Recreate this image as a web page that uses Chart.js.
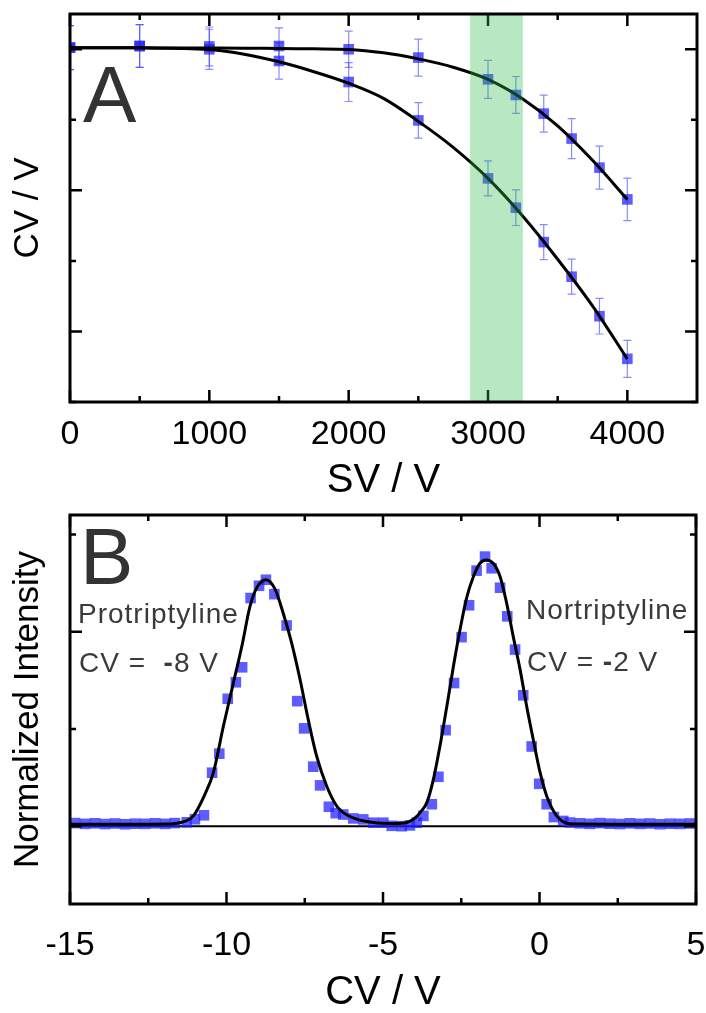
<!DOCTYPE html>
<html>
<head>
<meta charset="utf-8">
<script src="https://cdn.jsdelivr.net/npm/chart.js@4.4.1/dist/chart.umd.min.js"></script>
<style>
  html, body { margin: 0; padding: 0; background: #fff; }
  #page { position: relative; width: 706px; height: 1013px; overflow: hidden; }
  .panel { position: absolute; left: 0; width: 706px; }
  .note { position: absolute; font-family: 'Liberation Sans', Arial, sans-serif; line-height: 1; color: #3a3a3a; white-space: nowrap; }
  .letter { font-size: 80px; color: #333; }
  .drug { font-size: 28px; letter-spacing: 1px; }
</style>
</head>
<body>
<div id="page">
  <div class="panel" style="top:0;height:505px"><canvas id="chartA"></canvas></div>
  <div class="panel" style="top:505px;height:512px"><canvas id="chartB"></canvas></div>
  <div class="note letter" style="left:83px;top:55px">A</div>
  <div class="note letter" style="left:80px;top:517px">B</div>
  <div class="note drug" style="left:78px;top:600px">Protriptyline</div>
  <div class="note drug" style="left:79px;top:649px">CV =&nbsp; <b>-</b>8 V</div>
  <div class="note drug" style="left:526px;top:596px">Nortriptyline</div>
  <div class="note drug" style="left:527px;top:648px">CV = <b>-</b>2 V</div>
</div>
<script>
const FONT = "'Liberation Sans', Arial, sans-serif";

// Panel A - peak CV against separation voltage
const svValues = [0, 500, 1000, 1500, 2000, 2500, 3000, 3200, 3400, 3600, 3800, 4000];
const cvUpper  = [0.12, 0.23, 0.20, 0.23, 0.00, -0.59, -2.13, -3.24, -4.56, -6.33, -8.39, -10.64];
const errUpper = [1.56, 1.52, 1.38, 1.28, 1.28, 1.31, 1.35, 1.31, 1.31, 1.42, 1.52, 1.51];
const cvLower  = [0.12, 0.23, 0.00, -0.83, -2.32, -5.04, -9.15, -11.23, -13.67, -16.12, -18.92, -21.94];
const errLower = [1.56, 1.52, 1.42, 1.28, 1.38, 1.26, 1.24, 1.26, 1.24, 1.24, 1.26, 1.31];
// fitted curves
const fitSV    = [0, 500, 1000, 1250, 1500, 1750, 2000, 2250, 2500, 2750, 3000, 3250, 3500, 3750, 4000];
const fitUpper = [0.11, 0.10, 0.09, 0.08, 0.05, 0.03, -0.01, -0.25, -0.68, -1.27, -2.13, -3.52, -5.43, -7.87, -10.64];
const fitLower = [0.11, 0.10, -0.02, -0.35, -0.89, -1.59, -2.41, -3.48, -5.11, -6.95, -9.15, -11.83, -14.88, -18.19, -21.95];
const svTicks  = [0, 500, 1000, 1500, 2000, 2500, 3000, 3500, 4000];
const cvTicksA = [-25, -20, -15, -10, -5, 0];
const bandSV   = [2872, 3250];

// Panel B - CV scan
const scanCV = [-14.84, -14.52, -14.20, -13.88, -13.56, -13.24, -12.92, -12.60, -12.28, -11.96, -11.65, -11.27, -11.01, -10.72,
  -10.46, -10.23, -9.96, -9.70, -9.50, -9.23, -8.96, -8.74, -8.47, -8.08, -7.74, -7.52, -7.23, -7.01, -6.73, -6.51,
  -6.27, -5.95, -5.63, -5.31, -4.99, -4.72, -4.40, -4.14, -3.92, -3.71, -3.44,
  -3.23, -3.00, -2.73, -2.49, -2.25, -2.01, -1.74, -1.53, -1.26, -1.03, -0.78, -0.52, -0.25, -0.01, 0.23, 0.46, 0.76,
  0.97, 1.29, 1.61, 1.93, 2.25, 2.57, 2.89, 3.21, 3.53, 3.85, 4.17, 4.49, 4.81];
const intensity = [0.016, 0.012, 0.015, 0.011, 0.014, 0.010, 0.013, 0.012, 0.015, 0.012, 0.016, 0.020, 0.036, 0.056,
  0.275, 0.373, 0.655, 0.740, 0.817, 1.173, 1.236, 1.267, 1.193, 1.032, 0.643, 0.503, 0.306, 0.210, 0.100, 0.067,
  0.060, 0.040, 0.035, 0.018, 0.018, 0.002, 0.000, 0.004, 0.018, 0.053, 0.113,
  0.254, 0.494, 0.736, 0.972, 1.136, 1.314, 1.386, 1.326, 1.226, 1.079, 0.908, 0.673, 0.410, 0.218, 0.113, 0.047, 0.027,
  0.019, 0.015, 0.012, 0.016, 0.013, 0.011, 0.015, 0.012, 0.014, 0.010, 0.013, 0.012, 0.014];
const fitCV = [-15, -13, -12, -11.49, -11.06, -10.69, -10.42, -10.10, -9.78, -9.51, -9.25, -9.04, -8.74, -8.45, -8.19, -7.92,
  -7.65, -7.39, -7.12, -6.80, -6.48, -6.27, -5.84, -5.31, -4.67, -4.24, -3.92, -3.82, -3.60, -3.39, -3.18, -2.96,
  -2.75, -2.54, -2.33, -2.11, -1.90, -1.71, -1.48, -1.26, -1.05, -0.84, -0.62, -0.41, -0.20, 0.02, 0.23, 0.55, 0.97, 2.5, 5];
const fitInt = [0.010, 0.010, 0.011, 0.018, 0.053, 0.164, 0.275, 0.514, 0.737, 0.925, 1.130, 1.224, 1.267, 1.219, 1.096, 0.942,
  0.754, 0.549, 0.360, 0.207, 0.104, 0.070, 0.036, 0.019, 0.014, 0.019, 0.050, 0.070, 0.121, 0.241, 0.412, 0.617,
  0.822, 1.010, 1.173, 1.284, 1.352, 1.369, 1.352, 1.284, 1.147, 0.976, 0.805, 0.617, 0.446, 0.275, 0.155, 0.053, 0.012, 0.010, 0.010];
const cvTicksB  = [-15, -12.5, -10, -7.5, -5, -2.5, 0, 2.5, 5];
const intTicks  = [0, 0.5, 1, 1.5];

const toPoints = (xs, ys) => xs.map((v, i) => ({ x: v, y: ys[i] }));
const markerColor = 'rgba(30,30,255,0.72)';

// vertical error bars with caps, drawn under the markers
const errorBars = {
  id: 'errorBars',
  beforeDatasetsDraw(chart) {
    const { ctx, chartArea: a, scales: { x, y } } = chart;
    ctx.save();
    ctx.beginPath();
    ctx.rect(a.left, a.top, a.width, a.height);
    ctx.clip();
    ctx.strokeStyle = 'rgba(60,60,255,0.6)';
    ctx.lineWidth = 1.2;
    chart.data.datasets.forEach(ds => {
      if (!ds.yErr) return;
      ds.data.forEach((p, i) => {
        const px = x.getPixelForValue(p.x);
        const top = y.getPixelForValue(p.y + ds.yErr[i]);
        const bot = y.getPixelForValue(p.y - ds.yErr[i]);
        ctx.beginPath();
        ctx.moveTo(px, top); ctx.lineTo(px, bot);
        ctx.moveTo(px - 4, top); ctx.lineTo(px + 4, top);
        ctx.moveTo(px - 4, bot); ctx.lineTo(px + 4, bot);
        ctx.stroke();
      });
    });
    ctx.restore();
  }
};

// box frame with inward ticks on all four sides, optional band and zero line
function makeFrame(cfg) {
  return {
    id: 'frame',
    beforeDatasetsDraw(chart) {
      if (cfg.baseline === undefined) return;
      const { ctx, chartArea: a, scales: { y } } = chart;
      const py = y.getPixelForValue(cfg.baseline);
      ctx.save();
      ctx.strokeStyle = '#000';
      ctx.lineWidth = 2;
      ctx.beginPath();
      ctx.moveTo(a.left, py); ctx.lineTo(a.right, py);
      ctx.stroke();
      ctx.restore();
    },
    afterDatasetsDraw(chart) {
      const { ctx, chartArea: a, scales: { x, y } } = chart;
      ctx.save();
      ctx.strokeStyle = '#000';
      ctx.lineWidth = 2.5;
      ctx.beginPath();
      x.ticks.forEach(t => {
        const px = x.getPixelForValue(t.value);
        const len = Math.abs(t.value % cfg.xMajor) < 1e-9 ? 12 : 6;
        ctx.moveTo(px, a.bottom); ctx.lineTo(px, a.bottom - len);
        ctx.moveTo(px, a.top); ctx.lineTo(px, a.top + len);
      });
      y.ticks.forEach(t => {
        const py = y.getPixelForValue(t.value);
        const len = Math.abs(t.value % cfg.yMajor) < 1e-9 ? 12 : 6;
        ctx.moveTo(a.left, py); ctx.lineTo(a.left + len, py);
        ctx.moveTo(a.right, py); ctx.lineTo(a.right - len, py);
      });
      ctx.stroke();
      if (cfg.band) {
        const x0 = x.getPixelForValue(cfg.band[0]);
        const x1 = x.getPixelForValue(cfg.band[1]);
        ctx.fillStyle = 'rgba(50,190,80,0.35)';
        ctx.fillRect(x0, a.top, x1 - x0, a.height);
      }
      ctx.lineWidth = 3;
      ctx.strokeRect(a.left, a.top, a.width, a.height);
      ctx.restore();
    }
  };
}

function xAxis(min, max, ticks, labelStep, title, height, tickPad) {
  return {
    type: 'linear', position: 'bottom', min: min, max: max,
    afterBuildTicks: s => { s.ticks = ticks.map(v => ({ value: v })); },
    afterFit: s => { s.height = height; s.paddingLeft = 0; s.paddingRight = 0; },
    grid: { display: false },
    border: { display: false },
    ticks: {
      autoSkip: false, maxRotation: 0, padding: tickPad, color: '#000',
      font: { family: FONT, size: 34 },
      callback: v => (Math.abs(v % labelStep) < 1e-9 ? String(v) : '')
    },
    title: { display: true, text: title, color: '#000', font: { family: FONT, size: 40 }, padding: { top: 0, bottom: 0 } }
  };
}

function yAxis(min, max, ticks, title) {
  return {
    type: 'linear', min: min, max: max,
    afterBuildTicks: s => { s.ticks = ticks.map(v => ({ value: v })); },
    afterFit: s => { s.width = 70; s.paddingTop = 0; s.paddingBottom = 0; },
    grid: { display: false },
    border: { display: false },
    ticks: { display: false },
    title: { display: true, text: title, color: '#000', font: { family: FONT, size: 35 }, padding: { top: 7, bottom: 0 } }
  };
}

const lineStyle = {
  showLine: true, borderColor: '#000', borderWidth: 3, pointRadius: 0,
  cubicInterpolationMode: 'monotone', fill: false
};
const markerStyle = {
  pointStyle: 'rect', pointRadius: 7.5, pointBackgroundColor: markerColor,
  pointBorderWidth: 0, borderWidth: 0
};

new Chart(document.getElementById('chartA'), {
  type: 'scatter',
  data: {
    datasets: [
      { label: 'fit 1', data: toPoints(fitSV, fitUpper), ...lineStyle },
      { label: 'fit 2', data: toPoints(fitSV, fitLower), ...lineStyle },
      { label: 'Nortriptyline', data: toPoints(svValues, cvUpper), yErr: errUpper, ...markerStyle },
      { label: 'Protriptyline', data: toPoints(svValues, cvLower), yErr: errLower, ...markerStyle }
    ]
  },
  options: {
    responsive: true,
    maintainAspectRatio: false,
    animation: false,
    layout: { padding: { left: 0, right: 9, top: 14, bottom: 0 } },
    scales: {
      x: xAxis(0, 4500, svTicks, 1000, 'SV / V', 103, 4),
      y: yAxis(-25, 2.5, cvTicksA, 'CV / V')
    },
    plugins: { legend: { display: false }, tooltip: { enabled: false } }
  },
  plugins: [errorBars, makeFrame({ xMajor: 1000, yMajor: 10, band: bandSV })]
});

new Chart(document.getElementById('chartB'), {
  type: 'scatter',
  data: {
    datasets: [
      { label: 'fit', data: toPoints(fitCV, fitInt), ...lineStyle },
      { label: 'scan', data: toPoints(scanCV, intensity), ...markerStyle }
    ]
  },
  options: {
    responsive: true,
    maintainAspectRatio: false,
    animation: false,
    layout: { padding: { left: 0, right: 10, top: 10, bottom: 0 } },
    scales: {
      x: xAxis(-15, 5, cvTicksB, 5, 'CV / V', 113, 13),
      y: yAxis(-0.4, 1.6, intTicks, 'Normalized Intensity')
    },
    plugins: { legend: { display: false }, tooltip: { enabled: false } }
  },
  plugins: [makeFrame({ xMajor: 5, yMajor: 1, baseline: 0 })]
});
</script>
</body>
</html>
